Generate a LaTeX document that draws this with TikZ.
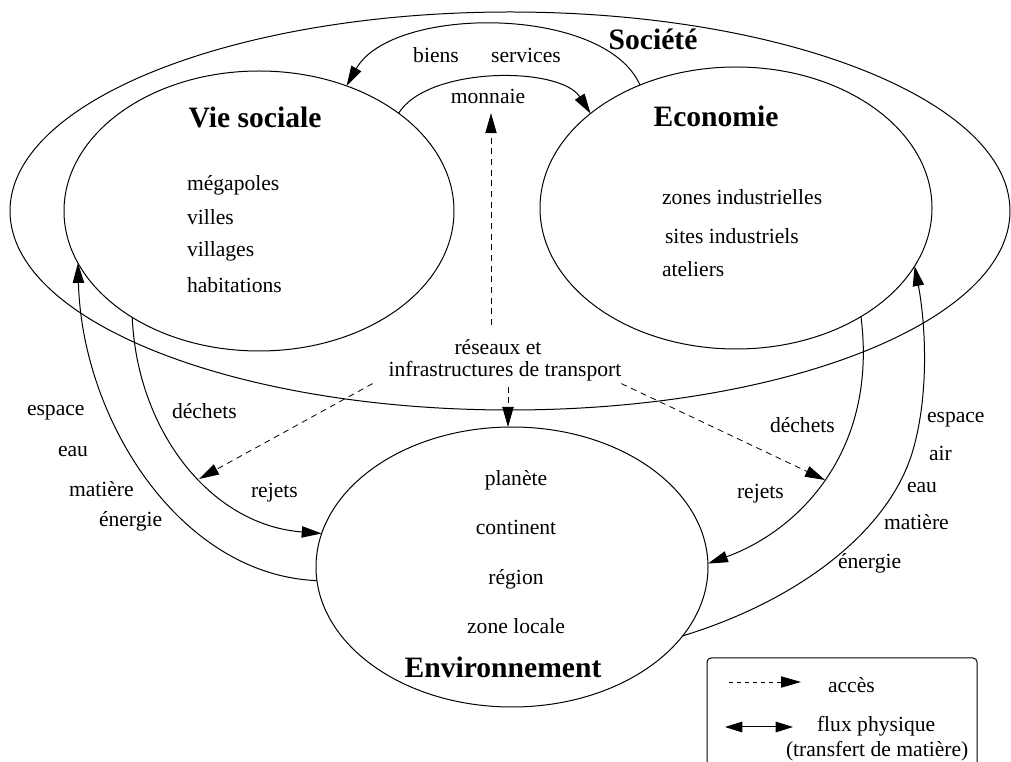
\documentclass[tikz,border=0pt]{standalone}
\usepackage{fontspec}
\setmainfont{Liberation Serif}
\usetikzlibrary{arrows.meta,shapes.geometric,calc}
\begin{document}
\begin{tikzpicture}[x=0.75pt,y=-0.75pt,
  every node/.style={inner sep=0pt,outer sep=0pt},
  zone/.style={draw,ellipse,line width=0.75pt,inner sep=0pt,outer sep=0pt},
  lbl/.style={font=\fontsize{16.2}{19}\selectfont},
  ttl/.style={font=\bfseries\fontsize{22.2}{26}\selectfont},
  flux/.style={line width=0.75pt,-{Triangle[length=15pt,width=8.5pt]}},
  access/.style={line width=0.6pt,dash pattern=on 4.5pt off 3.5pt,-{Triangle[length=15pt,width=8.5pt]}},
  legbox/.style={draw,line width=0.75pt,rounded corners=3pt,anchor=north west,minimum width=270*0.75pt,minimum height=150*0.75pt}
]
\useasboundingbox (0,0) rectangle (1011,762);
\clip (0,0) rectangle (1011,762);

% ellipses
\node[zone,minimum width=1000*0.75pt,minimum height=398*0.75pt] (soc) at (510,211) {};
\node[zone,minimum width=390*0.75pt,minimum height=280*0.75pt] (vie) at (259,211) {};
\node[zone,minimum width=392*0.75pt,minimum height=282*0.75pt] (eco) at (736,208) {};
\node[zone,minimum width=392*0.75pt,minimum height=280*0.75pt] (env) at (512,567) {};

% titles
\node[ttl,anchor=base] (socT) at (653,50) {Société};
\node[ttl,anchor=base] (vieT) at (255,128) {Vie sociale};
\node[ttl,anchor=base] (ecoT) at (716,127) {Economie};
\node[ttl,anchor=base] (envT) at (503,678) {Environnement};

% top labels
\node[lbl,anchor=base] (biens) at (436,63) {biens};
\node[lbl,anchor=base] (serv) at (526,63) {services};
\node[lbl,anchor=base] (mon) at (488,104) {monnaie};

% vie sociale list
\node[lbl,anchor=base west] (v1) at (187,191) {mégapoles};
\node[lbl,anchor=base west] (v2) at (187,225) {villes};
\node[lbl,anchor=base west] (v3) at (187,257) {villages};
\node[lbl,anchor=base west] (v4) at (187,293) {habitations};

% economie list
\node[lbl,anchor=base west] (e1) at (662,205) {zones industrielles};
\node[lbl,anchor=base west] (e2) at (665,244) {sites industriels};
\node[lbl,anchor=base west] (e3) at (662,277) {ateliers};

% reseaux
\node[lbl,anchor=base] (r1) at (498,355) {réseaux et};
\node[lbl,anchor=base] (r2) at (505,377) {infrastructures de transport};

% environnement list
\node[lbl,anchor=base] (n1) at (516,486) {planète};
\node[lbl,anchor=base] (n2) at (516,535) {continent};
\node[lbl,anchor=base] (n3) at (516,585) {région};
\node[lbl,anchor=base] (n4) at (516,634) {zone locale};

% left labels
\node[lbl,anchor=base west] (l1) at (27,416) {espace};
\node[lbl,anchor=base west] (l2) at (58,457) {eau};
\node[lbl,anchor=base west] (l3) at (69,497) {matière};
\node[lbl,anchor=base west] (l4) at (99,527) {énergie};
\node[lbl,anchor=base west] (ld) at (172,419) {déchets};
\node[lbl,anchor=base west] (lr) at (251,498) {rejets};

% right labels
\node[lbl,anchor=base west] (rd) at (770,433) {déchets};
\node[lbl,anchor=base west] (rr) at (737,499) {rejets};
\node[lbl,anchor=base west] (q1) at (927,423) {espace};
\node[lbl,anchor=base west] (q2) at (929,461) {air};
\node[lbl,anchor=base west] (q3) at (907,493) {eau};
\node[lbl,anchor=base west] (q4) at (884,530) {matière};
\node[lbl,anchor=base west] (q5) at (838,569) {énergie};

% physical flows
\draw[flux] (eco.128) .. controls (605,5) and (392,5) .. (vie.55);
\draw[flux] (vie.35) .. controls (428,66) and (560,66) .. (eco.147);
\draw[flux] (vie.220) .. controls (137,430) and (210,525) .. (env.170);
\draw[flux] (env.184) .. controls (180,575) and (82,420) .. (vie.196);
\draw[flux] (eco.-41) .. controls (878,450) and (800,530) .. (env.1);
\draw[flux] (env.-22) .. controls (800,600) and (890,530) .. (913,450)
                      .. controls (930,391) and (925,320) .. (eco.-18);

% access arrows
\coordinate (ustart) at ($(mon.south |- r1.north)+(3,-15)$);
\coordinate (uend) at ($(mon.south)+(3,9)$);
\draw[access] (ustart) -- (uend);
\coordinate (dstart) at ($(r2.south)+(3,5)$);
\draw[access] (dstart) -- (dstart |- env.north);
\coordinate (ltip) at (199,479);
\coordinate (rtip) at (825,480);
\draw[access] ($(r2.south west)+(-16,2)$) -- (ltip);
\draw[access] ($(r2.south east)+(0,2)$) -- (rtip);

% legend
\node[legbox] (legend) at (707,658) {};
\coordinate (la1) at (729,682);
\coordinate (la2) at (801,682);
\draw[access,dash pattern=on 3pt off 3pt] (la1) -- (la2);
\coordinate (lb1) at (725,727);
\coordinate (lb2) at (793,727);
\draw[line width=0.75pt,{Triangle[length=13pt,width=8pt]}-{Triangle[length=13pt,width=8pt]}] (lb1) -- (lb2);
\node[lbl,anchor=base west] (lt1) at (828,693) {accès};
\node[lbl,anchor=base west] (lt2) at (817,731) {flux physique};
\node[lbl,anchor=base west] (lt3) at (786,756) {(transfert de matière)};
\end{tikzpicture}
\end{document}
